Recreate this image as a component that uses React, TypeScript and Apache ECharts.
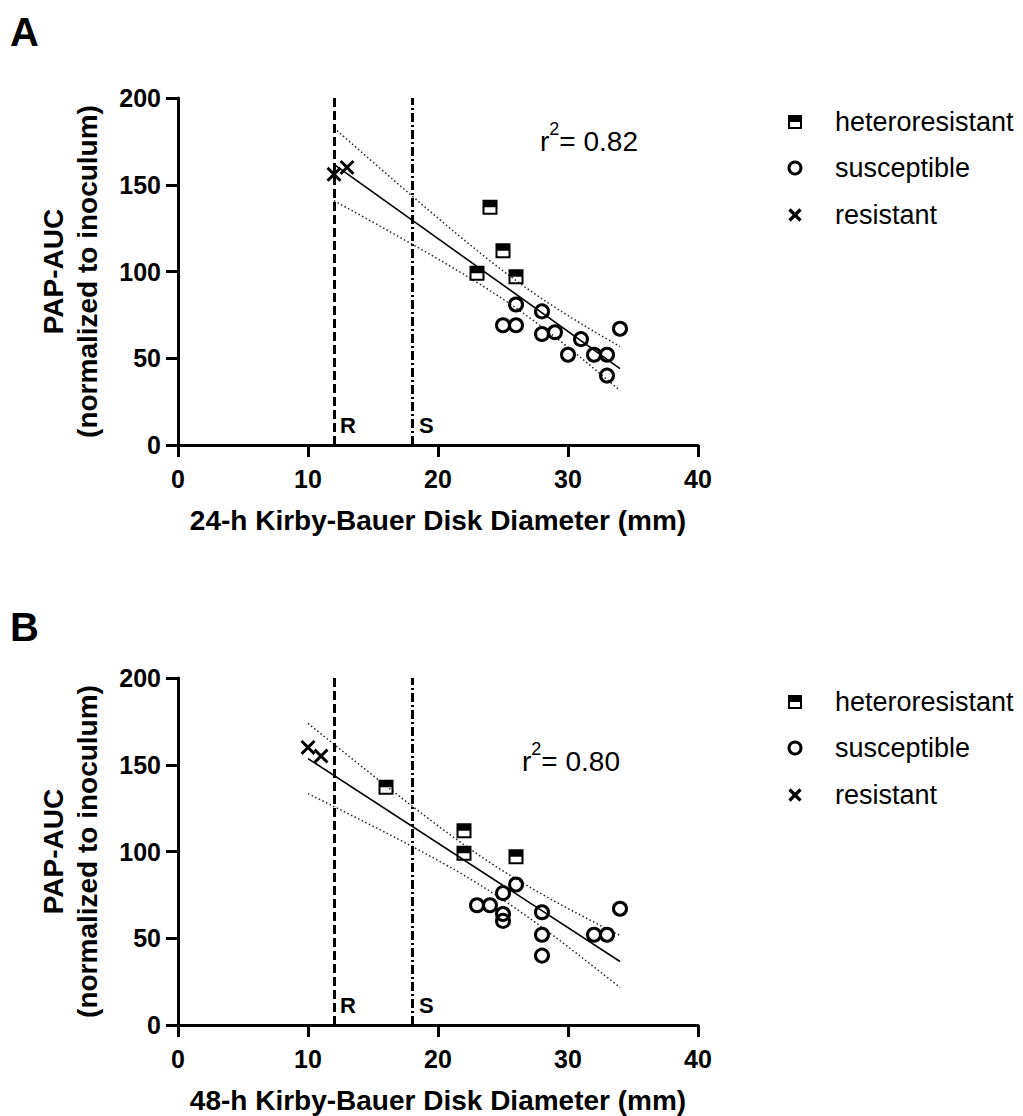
import React, { useEffect, useRef } from "react";
import * as echarts from "echarts";

// ---------- Data ----------
// Panel A: 24-h disk diameter
const A_hetX = [24, 25, 23, 26];
const A_hetY = [137, 112, 99, 97];
const A_susX = [26, 25, 26, 28, 28, 29, 31, 30, 32, 33, 33, 34];
const A_susY = [81, 69, 69, 77, 64, 65, 61, 52, 52, 52, 40, 67];
const A_resX = [12, 13];
const A_resY = [156, 160];

// Panel B: 48-h disk diameter
const B_hetX = [16, 22, 22, 26];
const B_hetY = [137, 112, 99, 97];
const B_susX = [26, 25, 23, 24, 25, 25, 28, 28, 28, 32, 33, 34];
const B_susY = [81, 76, 69, 69, 64, 60, 65, 52, 40, 52, 52, 67];
const B_resX = [10, 11];
const B_resY = [160, 155];

const breakpoints = [12, 18]; // R, S
const r2Labels = ["0.82", "0.80"];
const xTitles = [
  "24-h Kirby-Bauer Disk Diameter (mm)",
  "48-h Kirby-Bauer Disk Diameter (mm)",
];
const yTitle = "PAP-AUC\n(normalized to inoculum)";
const legendNames = ["heteroresistant", "susceptible", "resistant"];
const panelLetters = ["A", "B"];

const FONT = "'Liberation Sans', Arial, Helvetica, sans-serif";

const HET_PATH = "path://M0 0H15V15H0Z M2 7.5V13H13V7.5Z";
const X_PATH =
  "path://M0 2.2L2.2 0L8 5.8L13.8 0L16 2.2L10.2 8L16 13.8L13.8 16L8 10.2L2.2 16L0 13.8L5.8 8Z";

const zip = (xs: number[], ys: number[]) => xs.map((x, i) => [x, ys[i]]);

// least-squares fit with 95% confidence band of the regression line
function fit(xs: number[], ys: number[]) {
  const n = xs.length;
  const mx = xs.reduce((a, b) => a + b, 0) / n;
  const my = ys.reduce((a, b) => a + b, 0) / n;
  let sxx = 0, sxy = 0, syy = 0;
  for (let i = 0; i < n; i++) {
    sxx += (xs[i] - mx) ** 2;
    sxy += (xs[i] - mx) * (ys[i] - my);
    syy += (ys[i] - my) ** 2;
  }
  const b = sxy / sxx;
  const a = my - b * mx;
  const s = Math.sqrt((syy - (sxy * sxy) / sxx) / (n - 2));
  const t = 2.12; // t(0.975, df = 16)
  const xmin = Math.min(...xs);
  const xmax = Math.max(...xs);
  const line = [[xmin, a + b * xmin], [xmax, a + b * xmax]];
  const upper: number[][] = [];
  const lower: number[][] = [];
  const steps = 60;
  for (let k = 0; k <= steps; k++) {
    const x = xmin + ((xmax - xmin) * k) / steps;
    const yh = a + b * x;
    const half = t * s * Math.sqrt(1 / n + (x - mx) ** 2 / sxx);
    upper.push([x, yh + half]);
    lower.push([x, yh - half]);
  }
  return { line, upper, lower };
}

const panels = [
  { het: zip(A_hetX, A_hetY), sus: zip(A_susX, A_susY), res: zip(A_resX, A_resY),
    allX: [...A_hetX, ...A_susX, ...A_resX], allY: [...A_hetY, ...A_susY, ...A_resY] },
  { het: zip(B_hetX, B_hetY), sus: zip(B_susX, B_susY), res: zip(B_resX, B_resY),
    allX: [...B_hetX, ...B_susX, ...B_resX], allY: [...B_hetY, ...B_susY, ...B_resY] },
];

const GRID_TOP = [98, 678];
const PANEL_DY = [0, 580];

function buildOption() {
  const grid = GRID_TOP.map((top) => ({ left: 178, top, width: 520, height: 347 }));
  const axisCommon = {
    axisLine: { show: true, onZero: false, lineStyle: { color: "#000", width: 3 } },
    axisTick: { show: true, length: 12, lineStyle: { color: "#000", width: 3 } },
    splitLine: { show: false },
  };
  const xAxis = [0, 1].map((i) => ({
    type: "value",
    gridIndex: i,
    min: 0,
    max: 40,
    interval: 10,
    ...axisCommon,
    axisLabel: { margin: 21, fontSize: 25, fontWeight: "bold", color: "#000", fontFamily: FONT },
    name: xTitles[i],
    nameLocation: "middle",
    nameGap: 61,
    nameTextStyle: { fontSize: 28, fontWeight: "bold", color: "#000", fontFamily: FONT },
  }));
  const yAxis = [0, 1].map((i) => ({
    type: "value",
    gridIndex: i,
    min: 0,
    max: 200,
    interval: 50,
    ...axisCommon,
    axisLabel: { margin: 17, fontSize: 25, fontWeight: "bold", color: "#000", fontFamily: FONT },
    name: yTitle,
    nameLocation: "middle",
    nameRotate: 90,
    nameGap: 74,
    nameTextStyle: { fontSize: 28, fontWeight: "bold", color: "#000", fontFamily: FONT, lineHeight: 34 },
  }));

  const series: any[] = [];
  panels.forEach((p, i) => {
    const f = fit(p.allX, p.allY);
    series.push({
      type: "line", name: "fit", xAxisIndex: i, yAxisIndex: i, data: f.line,
      showSymbol: false, silent: true, z: 2,
      lineStyle: { color: "#000", width: 1.6 },
      markLine: {
        silent: true, symbol: ["none", "none"], label: { show: false },
        lineStyle: { color: "#000", width: 3 },
        data: [
          { xAxis: breakpoints[0], lineStyle: { type: [9, 4], color: "#000", width: 3 } },
          { xAxis: breakpoints[1], lineStyle: { type: [9, 3, 2, 3], color: "#000", width: 3 } },
        ],
      },
    });
    series.push({
      type: "line", name: "upper", xAxisIndex: i, yAxisIndex: i, data: f.upper,
      showSymbol: false, silent: true, z: 2,
      lineStyle: { color: "#222", width: 1.5, type: [1.5, 2.5] },
    });
    series.push({
      type: "line", name: "lower", xAxisIndex: i, yAxisIndex: i, data: f.lower,
      showSymbol: false, silent: true, z: 2,
      lineStyle: { color: "#222", width: 1.5, type: [1.5, 2.5] },
    });
    series.push({
      type: "scatter", name: legendNames[0], xAxisIndex: i, yAxisIndex: i, data: p.het,
      symbol: HET_PATH, symbolSize: 15, z: 4, silent: true,
      itemStyle: { color: "#000", opacity: 1 },
    });
    series.push({
      type: "scatter", name: legendNames[1], xAxisIndex: i, yAxisIndex: i, data: p.sus,
      symbol: "circle", symbolSize: 13, z: 4, silent: true,
      itemStyle: { color: "rgba(0,0,0,0)", borderColor: "#000", borderWidth: 3, opacity: 1 },
    });
    series.push({
      type: "scatter", name: legendNames[2], xAxisIndex: i, yAxisIndex: i, data: p.res,
      symbol: X_PATH, symbolSize: 15, z: 4, silent: true,
      itemStyle: { color: "#000", opacity: 1 },
    });
  });

  const graphic: any[] = [];
  [0, 1].forEach((i) => {
    const dy = PANEL_DY[i];
    graphic.push({
      type: "text", left: 10, top: i === 0 ? 12 : 607,
      style: { text: panelLetters[i], fontSize: 40, fontWeight: "bold", fill: "#000", fontFamily: FONT },
    });
    graphic.push({
      type: "text", x: i === 0 ? 540 : 522, y: i === 0 ? 141 : 761,
      style: {
        text: "{a|r}{b|2}{a|= " + r2Labels[i] + "}",
        verticalAlign: "middle",
        rich: {
          a: { fontSize: 28, fill: "#000", fontFamily: FONT },
          b: { fontSize: 18, fill: "#000", fontFamily: FONT, padding: [0, 0, 24, 0] },
        },
        fill: "#000",
      },
    });
    graphic.push({
      type: "text", x: 340, y: 425 + dy,
      style: { text: "R", fontSize: 22, fontWeight: "bold", fill: "#000", fontFamily: FONT, verticalAlign: "middle" },
    });
    graphic.push({
      type: "text", x: 419, y: 425 + dy,
      style: { text: "S", fontSize: 22, fontWeight: "bold", fill: "#000", fontFamily: FONT, verticalAlign: "middle" },
    });
    // legend icons
    graphic.push({
      type: "rect", shape: { x: 789, y: 116 + dy, width: 12, height: 12 },
      style: { fill: "none", stroke: "#000", lineWidth: 2 },
    });
    graphic.push({
      type: "rect", shape: { x: 789, y: 116 + dy, width: 12, height: 6 },
      style: { fill: "#000" },
    });
    graphic.push({
      type: "circle", shape: { cx: 795, cy: 168 + dy, r: 6 },
      style: { fill: "none", stroke: "#000", lineWidth: 3 },
    });
    graphic.push({
      type: "line", shape: { x1: 789.5, y1: 209.5 + dy, x2: 800.5, y2: 220.5 + dy },
      style: { stroke: "#000", lineWidth: 3.2 },
    });
    graphic.push({
      type: "line", shape: { x1: 800.5, y1: 209.5 + dy, x2: 789.5, y2: 220.5 + dy },
      style: { stroke: "#000", lineWidth: 3.2 },
    });
    const ly = [122, 168, 215];
    legendNames.forEach((nm, k) => {
      graphic.push({
        type: "text", x: 835, y: ly[k] + dy,
        style: { text: nm, fontSize: 27, fill: "#000", fontFamily: FONT, verticalAlign: "middle" },
      });
    });
  });

  return {
    animation: false,
    backgroundColor: "#fff",
    grid,
    xAxis,
    yAxis,
    series,
    graphic,
  };
}

export default function App() {
  const ref = useRef<HTMLDivElement>(null);
  useEffect(() => {
    document.body.style.margin = "0";
    if (!ref.current) return;
    const chart = echarts.init(ref.current, undefined, { renderer: "svg" });
    chart.setOption(buildOption() as any);
    return () => chart.dispose();
  }, []);
  return <div ref={ref} style={{ width: 1023, height: 1116 }} />;
}
